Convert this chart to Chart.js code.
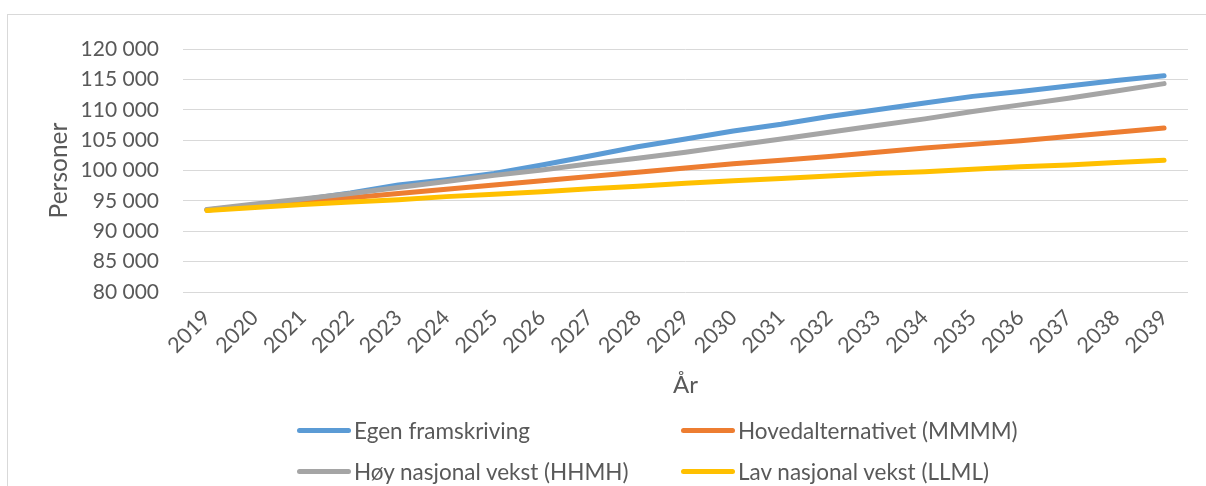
<!DOCTYPE html>
<html>
<head>
<meta charset="utf-8">
<script src="https://cdn.jsdelivr.net/npm/chart.js@4.4.1/dist/chart.umd.min.js"></script>
<style>
  html, body { margin: 0; padding: 0; background: #fff; }
  #wrap { position: relative; width: 1206px; height: 486px; overflow: hidden; font-family: Lato, "Open Sans", sans-serif; }
  #frame { position: absolute; left: 7px; top: 14px; width: 1300px; height: 500px; border: 1px solid #d9d9d9; box-sizing: border-box; }
  canvas { position: absolute; left: 0; top: 0; }
  .leg { position: absolute; display: flex; align-items: center; color: #595959; font-size: 22.5px; white-space: nowrap; }
  .leg .sw { width: 54px; height: 5px; border-radius: 3px; margin-right: 3px; }
</style>
</head>
<body>
<div id="wrap">
  <div id="frame"></div>
  <canvas id="c" width="1206" height="486"></canvas>
  <div id="legend"></div>
</div>
<script>
const categories = ["2019","2020","2021","2022","2023","2024","2025","2026","2027","2028","2029","2030","2031","2032","2033","2034","2035","2036","2037","2038","2039"];
const egenFramskriving = [93500,94300,95200,96300,97600,98500,99500,100900,102400,103900,105200,106500,107600,108900,110000,111100,112200,113000,113900,114800,115600];
const hovedalternativet = [93500,94100,94800,95500,96200,96900,97600,98300,99000,99700,100400,101100,101700,102300,103000,103700,104300,104900,105600,106300,107000];
const hoyNasjonalVekst = [93600,94500,95300,96200,97200,98200,99200,100100,101100,102000,103000,104100,105200,106300,107400,108500,109700,110800,111900,113100,114300];
const lavNasjonalVekst = [93400,93900,94400,94800,95200,95700,96100,96500,97000,97400,97900,98300,98700,99100,99500,99800,100200,100600,100900,101300,101700];
const seriesNames = ["Egen framskriving","Hovedalternativet (MMMM)","Høy nasjonal vekst (HHMH)","Lav nasjonal vekst (LLML)"];
const seriesColors = ["#5B9BD5","#ED7D31","#A5A5A5","#FFC000"];
const yMin = 80000, yMax = 120000, yStep = 5000;
const yTitle = "Personer", xTitle = "År";

const seriesData = [egenFramskriving, hovedalternativet, hoyNasjonalVekst, lavNasjonalVekst];
const FONT = "Lato, 'Open Sans', sans-serif";
const TXT = "#595959";

const datasets = seriesData.map((d, i) => ({
  label: seriesNames[i],
  data: d,
  borderColor: seriesColors[i],
  backgroundColor: seriesColors[i],
  borderWidth: 5,
  pointRadius: 0,
  pointHoverRadius: 0,
  tension: 0,
  borderCapStyle: 'round',
  borderJoinStyle: 'round',
  order: 4 - i,
  clip: false
}));

new Chart(document.getElementById('c'), {
  type: 'line',
  data: { labels: categories, datasets },
  options: {
    responsive: false,
    animation: false,
    events: [],
    layout: { padding: { left: 8, right: 18, top: 49, bottom: 86 } },
    plugins: { legend: { display: false }, tooltip: { enabled: false } },
    scales: {
      x: {
        offset: true,
        grid: { display: false, drawTicks: false },
        border: { display: false },
        ticks: { color: TXT, font: { family: FONT, size: 21.5 }, minRotation: 45, maxRotation: 45, padding: 13, autoSkip: false },
        title: { display: true, text: xTitle, color: TXT, font: { family: FONT, size: 24 }, padding: { top: 0, bottom: 0 } },
        afterFit: (s) => { s.height = 486 - 86 - 292; }
      },
      y: {
        min: yMin, max: yMax,
        grid: { color: '#d9d9d9', lineWidth: 1, drawTicks: false },
        border: { display: false },
        ticks: {
          stepSize: yStep, color: TXT, font: { family: FONT, size: 21 }, padding: 24,
          callback: (v) => String(v).replace(/\B(?=(\d{3})+(?!\d))/g, ' ')
        },
        title: { display: true, text: yTitle, color: TXT, font: { family: FONT, size: 24.5 }, padding: { top: 36, bottom: 0 } },
        afterFit: (s) => { s.width = 183 - 8; }
      }
    }
  }
});

const legendPos = [
  { x: 297, y: 430 }, { x: 681, y: 430 },
  { x: 297, y: 471 }, { x: 681, y: 471 }
];
const legend = document.getElementById('legend');
seriesNames.forEach((n, i) => {
  const el = document.createElement('div');
  el.className = 'leg';
  el.style.left = legendPos[i].x + 'px';
  el.style.top = (legendPos[i].y - 14) + 'px';
  el.style.height = '28px';
  el.innerHTML = '<div class="sw" style="background:' + seriesColors[i] + '"></div><span>' + n + '</span>';
  legend.appendChild(el);
});
</script>
</body>
</html>
